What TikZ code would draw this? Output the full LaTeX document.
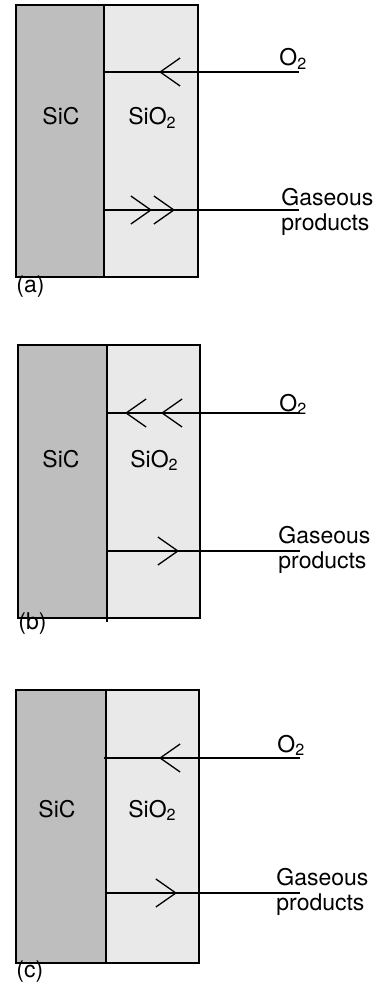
\documentclass[tikz,border=0pt]{standalone}
\usepackage{fontspec}
\setmainfont{TeX Gyre Heros}
\usetikzlibrary{arrows.meta,decorations.markings}
\definecolor{sicgray}{HTML}{BEBEBE}
\definecolor{oxidegray}{HTML}{E9E9E9}

\tikzset{
  layer/.style={line width=1pt},
  flow/.style={line width=0.65pt},
  chevron/.style={postaction={decorate, decoration={markings,
      mark=at position #1 with {\arrow{Straight Barb[length=10pt,width=14pt]}}}}},
  lbl/.style={font=\fontsize{11.5}{12.5}\selectfont, inner sep=0pt},
}

\begin{document}
\begin{tikzpicture}[x=0.5pt, y=-0.5pt]
  \useasboundingbox (0,0) rectangle (381,995);

  % (a)
  \fill[sicgray] (16,5) rectangle (104,277);
  \fill[oxidegray] (104,5) rectangle (198,277);
  \draw[layer] (16,5) rectangle (198,277);
  \draw[layer] (104,5) -- (104,277);
  \coordinate (a-o2in) at (105,72);
  \coordinate (a-o2out) at (299,72);
  \coordinate (a-gasin) at (105,210);
  \coordinate (a-gasout) at (299,210);
  \draw[flow, chevron=70pt] (a-o2out) -- (a-o2in);
  \draw[flow, chevron=23.5pt, chevron=35pt] (a-gasin) -- (a-gasout);
  \node[lbl, anchor=base] (a-sic) at (61,125) {SiC};
  \node[lbl, anchor=base west] (a-oxide) at (128,125) {SiO\textsubscript{2}};
  \node[lbl, anchor=base west] (a-o2) at (279,66) {O\textsubscript{2}};
  \node[lbl, anchor=base west, align=left] (a-gas) at (281,230) {Gaseous\\products};
  \node[lbl, anchor=base west] (a-tag) at (16,292) {(a)};

  % (b)
  \fill[sicgray] (18,345) rectangle (107,618);
  \fill[oxidegray] (107,345) rectangle (200,618);
  \draw[layer] (18,345) rectangle (200,618);
  \draw[layer] (107,345) -- (107,622);
  \coordinate (b-o2in) at (107,413);
  \coordinate (b-o2out) at (300,413);
  \coordinate (b-gasin) at (107,551);
  \coordinate (b-gasout) at (300,551);
  \draw[flow, chevron=69.5pt, chevron=87.5pt] (b-o2out) -- (b-o2in);
  \draw[flow, chevron=36pt] (b-gasin) -- (b-gasout);
  \node[lbl, anchor=base] (b-sic) at (61,467) {SiC};
  \node[lbl, anchor=base west] (b-oxide) at (130,467) {SiO\textsubscript{2}};
  \node[lbl, anchor=base west] (b-o2) at (279,411) {O\textsubscript{2}};
  \node[lbl, anchor=base west, align=left] (b-gas) at (278,568) {Gaseous\\products};
  \node[lbl, anchor=base west] (b-tag) at (18,629) {(b)};

  % (c)
  \fill[sicgray] (16,690) rectangle (106,963);
  \fill[oxidegray] (106,690) rectangle (199,963);
  \draw[layer] (16,690) rectangle (199,963);
  \draw[layer] (106,690) -- (106,963);
  \coordinate (c-o2in) at (104,758);
  \coordinate (c-o2out) at (300,758);
  \coordinate (c-gasin) at (106,893);
  \coordinate (c-gasout) at (300,893);
  \draw[flow, chevron=70.5pt] (c-o2out) -- (c-o2in);
  \draw[flow, chevron=35.5pt] (c-gasin) -- (c-gasout);
  \node[lbl, anchor=base] (c-sic) at (57,817) {SiC};
  \node[lbl, anchor=base west] (c-oxide) at (128,817) {SiO\textsubscript{2}};
  \node[lbl, anchor=base west] (c-o2) at (277,752) {O\textsubscript{2}};
  \node[lbl, anchor=base west, align=left] (c-gas) at (276,910) {Gaseous\\products};
  \node[lbl, anchor=base west] (c-tag) at (16,977) {(c)};
\end{tikzpicture}
\end{document}
